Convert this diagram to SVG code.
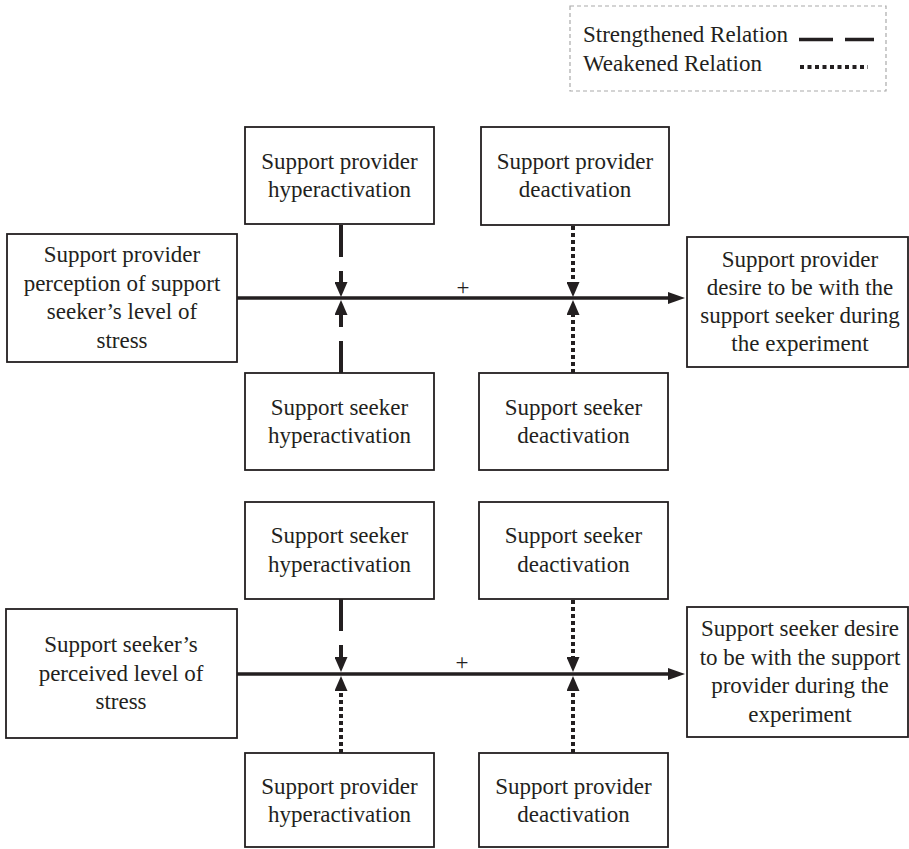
<svg xmlns="http://www.w3.org/2000/svg" width="909" height="849" viewBox="0 0 909 849">
<style>
.box{fill:#fff;stroke:#231f20;stroke-width:1.8}
.t{font-family:"Liberation Serif","Times New Roman",serif;font-size:23px;fill:#231f20;text-anchor:middle}
.tl{font-family:"Liberation Serif","Times New Roman",serif;font-size:23px;fill:#231f20}
.main{stroke:#231f20;stroke-width:3.5;fill:none}
.dash{stroke:#231f20;stroke-width:4;fill:none;stroke-dasharray:32 14}
.dot{stroke:#231f20;stroke-width:4;fill:none;stroke-dasharray:4 3}
</style>
<defs>
<marker id="av" viewBox="0 0 15 13" refX="0" refY="6.5" markerWidth="15" markerHeight="13" markerUnits="userSpaceOnUse" orient="auto"><path d="M0,0 L15,6.5 L0,13 z" fill="#231f20"/></marker>
<marker id="ah" viewBox="0 0 17 12" refX="0" refY="6" markerWidth="17" markerHeight="12" markerUnits="userSpaceOnUse" orient="auto"><path d="M0,0 L17,6 L0,12 z" fill="#231f20"/></marker>
</defs>
<rect width="909" height="849" fill="#fff"/>

<g id="legend">
<rect x="570" y="6" width="316" height="85" fill="none" stroke="#aaa" stroke-width="1.2" stroke-dasharray="4 3"/>
<text class="tl" x="583" y="41.5">Strengthened Relation</text>
<text class="tl" x="583" y="70.5">Weakened Relation</text>
<line x1="799" y1="39.5" x2="874" y2="39.5" stroke="#231f20" stroke-width="3.5" stroke-dasharray="34 12"/>
<line x1="800" y1="67" x2="868" y2="67" stroke="#231f20" stroke-width="4" stroke-dasharray="4 3.5"/>
</g>

<g id="connectors">
<line class="main" x1="237" y1="298" x2="668" y2="298" marker-end="url(#ah)"/>
<line class="dash" x1="341" y1="225" x2="341" y2="282" marker-end="url(#av)"/>
<line class="dash" x1="341" y1="373" x2="341" y2="315" marker-end="url(#av)"/>
<line class="dot" x1="573" y1="226" x2="573" y2="282" marker-end="url(#av)"/>
<line class="dot" x1="573" y1="373" x2="573" y2="315" marker-end="url(#av)"/>
<text class="t" x="463" y="295">+</text>

<line class="main" x1="237" y1="674" x2="668" y2="674" marker-end="url(#ah)"/>
<line class="dash" x1="341" y1="599" x2="341" y2="657" marker-end="url(#av)"/>
<line class="dot" x1="341" y1="753" x2="341" y2="691" marker-end="url(#av)"/>
<line class="dot" x1="573" y1="600" x2="573" y2="657" marker-end="url(#av)"/>
<line class="dot" x1="573" y1="753" x2="573" y2="691" marker-end="url(#av)"/>
<text class="t" x="462" y="670">+</text>
</g>

<g id="n1">
<rect class="box" x="7" y="234" width="230" height="128"/>
<text class="t" x="122" y="262">Support provider</text>
<text class="t" x="122" y="290.5">perception of support</text>
<text class="t" x="122" y="319">seeker’s level of</text>
<text class="t" x="122" y="347.5">stress</text>
</g>
<g id="n2">
<rect class="box" x="245" y="127" width="189" height="97"/>
<text class="t" x="339.5" y="168.5">Support provider</text>
<text class="t" x="339.5" y="196.5">hyperactivation</text>
</g>
<g id="n3">
<rect class="box" x="481" y="127" width="188" height="98"/>
<text class="t" x="575" y="168.5">Support provider</text>
<text class="t" x="575" y="196.5">deactivation</text>
</g>
<g id="n4">
<rect class="box" x="687" y="237" width="221" height="130"/>
<text class="t" x="800" y="266.5">Support provider</text>
<text class="t" x="800" y="295">desire to be with the</text>
<text class="t" x="800" y="323">support seeker during</text>
<text class="t" x="800" y="351">the experiment</text>
</g>
<g id="n5">
<rect class="box" x="245" y="373" width="189" height="97"/>
<text class="t" x="339.5" y="415">Support seeker</text>
<text class="t" x="339.5" y="443">hyperactivation</text>
</g>
<g id="n6">
<rect class="box" x="479" y="373" width="189" height="97"/>
<text class="t" x="573.5" y="415">Support seeker</text>
<text class="t" x="573.5" y="443">deactivation</text>
</g>

<g id="n7">
<rect class="box" x="6" y="609" width="231" height="129"/>
<text class="t" x="121" y="652">Support seeker’s</text>
<text class="t" x="121" y="680.5">perceived level of</text>
<text class="t" x="121" y="709">stress</text>
</g>
<g id="n8">
<rect class="box" x="245" y="502" width="189" height="97"/>
<text class="t" x="339.5" y="543">Support seeker</text>
<text class="t" x="339.5" y="571.5">hyperactivation</text>
</g>
<g id="n9">
<rect class="box" x="479" y="502" width="189" height="97"/>
<text class="t" x="573.5" y="543">Support seeker</text>
<text class="t" x="573.5" y="571.5">deactivation</text>
</g>
<g id="n10">
<rect class="box" x="687" y="607" width="221" height="130"/>
<text class="t" x="800" y="636">Support seeker desire</text>
<text class="t" x="800" y="664.5">to be with the support</text>
<text class="t" x="800" y="693">provider during the</text>
<text class="t" x="800" y="721.5">experiment</text>
</g>
<g id="n11">
<rect class="box" x="245" y="753" width="189" height="94"/>
<text class="t" x="339.5" y="794">Support provider</text>
<text class="t" x="339.5" y="822">hyperactivation</text>
</g>
<g id="n12">
<rect class="box" x="479" y="753" width="189" height="94"/>
<text class="t" x="573.5" y="794">Support provider</text>
<text class="t" x="573.5" y="822">deactivation</text>
</g>
</svg>
